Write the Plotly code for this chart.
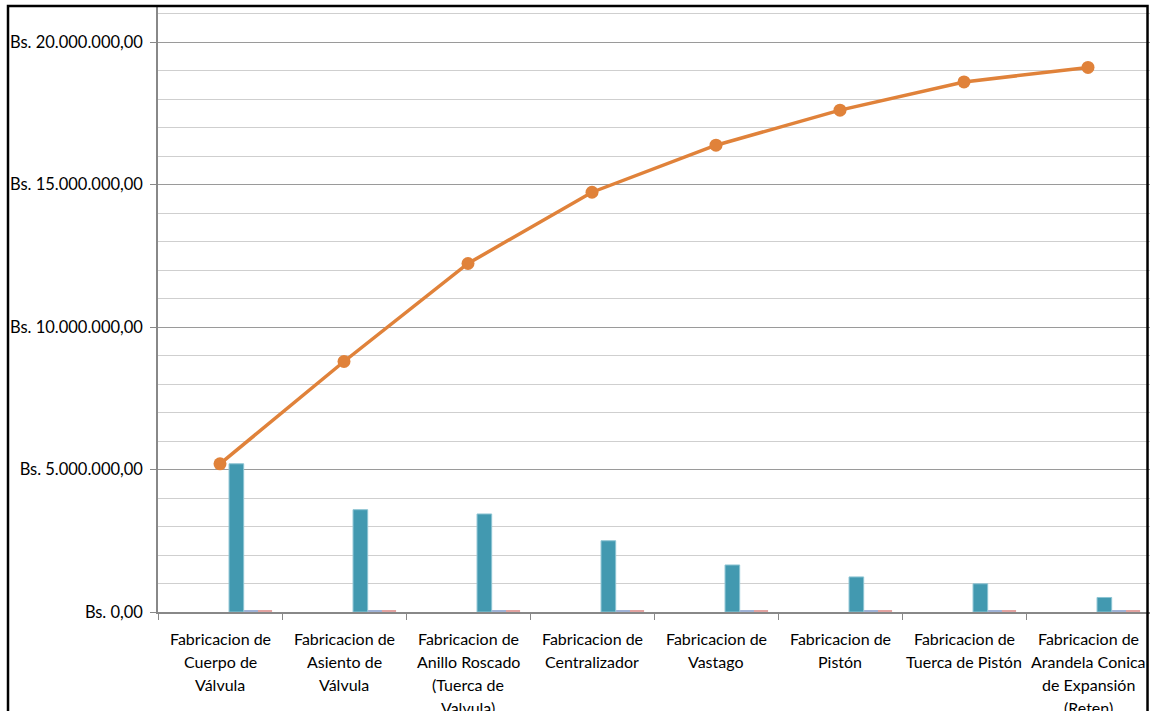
import plotly.graph_objects as go

# Pareto de costos de fabricación por pieza
categorias = [
    "Fabricacion de|Cuerpo de|Válvula",
    "Fabricacion de|Asiento de|Válvula",
    "Fabricacion de|Anillo Roscado|(Tuerca de|Valvula)",
    "Fabricacion de|Centralizador",
    "Fabricacion de|Vastago",
    "Fabricacion de|Pistón",
    "Fabricacion de|Tuerca de Pistón",
    "Fabricacion de|Arandela Conica|de Expansión|(Reten)",
]
costo = [5200000, 3590000, 3440000, 2500000, 1650000, 1230000, 990000, 510000]
costo_acumulado = [5200000, 8790000, 12230000, 14730000, 16380000, 17610000, 18600000, 19110000]
serie_b = [60000] * 8
serie_c = [60000] * 8

FONT = "Lato, 'Open Sans', sans-serif"
TEAL = "#4299B0"
ORANGE = "#E0823A"

fig = go.Figure()

fig.add_trace(go.Bar(x=categorias, y=costo, width=0.118, offset=0.073,
                     marker=dict(color=TEAL, line=dict(color="#8CC4D3", width=1)),
                     name="Costo"))
fig.add_trace(go.Bar(x=categorias, y=serie_b, width=0.114, offset=0.194,
                     marker=dict(color="#9FB2D6", line=dict(width=0)),
                     name="Serie B"))
fig.add_trace(go.Bar(x=categorias, y=serie_c, width=0.114, offset=0.306,
                     marker=dict(color="#E2A3A1", line=dict(width=0)),
                     name="Serie C"))
fig.add_trace(go.Scatter(x=categorias, y=costo_acumulado, mode="lines+markers",
                         line=dict(color=ORANGE, width=3.5),
                         marker=dict(color=ORANGE, size=13),
                         name="Costo acumulado"))

# category labels, one annotation per line (23 px line pitch)
for cat in categorias:
    for i, linea in enumerate(cat.split("|")):
        fig.add_annotation(x=cat, xref="x", y=0, yref="paper", yanchor="middle",
                           yshift=-(26 + 23 * i), text=linea, showarrow=False,
                           font=dict(family=FONT, size=16, color="#000"))

# outer chart border
fig.add_shape(type="rect", xref="paper", yref="paper",
              x0=-0.1512, x1=0.9975, y0=-0.3, y1=1.0017,
              line=dict(color="#000", width=2.5), layer="above")

fig.update_layout(
    width=1150, height=711,
    margin=dict(l=158, r=0, t=7, b=99),
    paper_bgcolor="white", plot_bgcolor="white",
    separators=",.",
    barmode="overlay",
    showlegend=False,
    font=dict(family=FONT, size=16, color="#000"),
    xaxis=dict(
        type="category", tickson="boundaries", showticklabels=False,
        ticks="outside", ticklen=6, tickcolor="#888",
        showline=True, linecolor="#888", linewidth=1.5,
        showgrid=False, range=[-0.5, 7.5],
    ),
    yaxis=dict(
        range=[0, 21.23e6], dtick=5e6, tick0=0,
        tickformat=",.2f", tickprefix="Bs. ",
        ticks="outside", ticklen=6, tickcolor="#888",
        ticklabelstandoff=4,
        showline=True, linecolor="#888", linewidth=1.5,
        showgrid=True, gridcolor="#9a9a9a", gridwidth=1.3,
        zeroline=False,
        minor=dict(dtick=1e6, tick0=0, showgrid=True, gridcolor="#cfcfcf", gridwidth=1.3, ticks=""),
        tickfont=dict(family=FONT, size=16.5),
    ),
)

fig.write_html("out.html")
